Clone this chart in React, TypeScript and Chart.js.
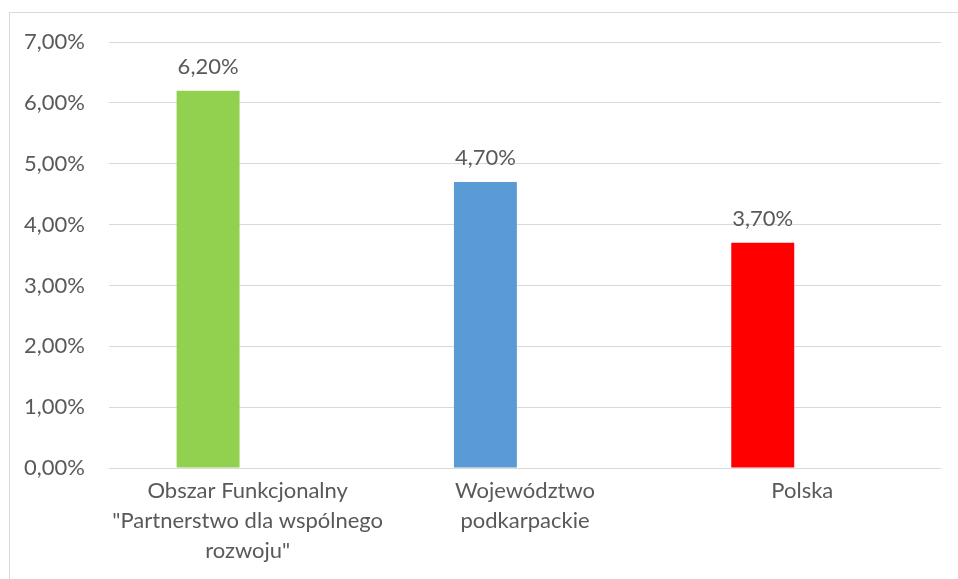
import React, { useEffect, useRef } from "react";
import { Chart, registerables } from "chart.js";

Chart.register(...registerables);

const categories: (string | string[])[] = [
  ["Obszar Funkcjonalny", "\"Partnerstwo dla wspólnego", "rozwoju\""],
  ["Województwo", "podkarpackie"],
  "Polska",
];
const values: number[] = [6.2, 4.7, 3.7];
const emptySeries: (number | null)[] = [null, null, null];
const barColors: string[] = ["#92D050", "#5B9BD5", "#FF0000"];
const yMin = 0;
const yMax = 7;
const yStep = 1;

const FONT = "Lato";
const TEXT = "#595959";
const SIZE = 22;

const fmt = (v: number) => v.toFixed(2).replace(".", ",") + "%";

const dataLabels = {
  id: "dataLabels",
  afterDatasetsDraw(chart: any) {
    const ctx = chart.ctx;
    const meta = chart.getDatasetMeta(0);
    ctx.save();
    ctx.font = `${SIZE}px ${FONT}`;
    ctx.fillStyle = TEXT;
    ctx.textAlign = "center";
    ctx.textBaseline = "alphabetic";
    meta.data.forEach((el: any, i: number) => {
      const v = chart.data.datasets[0].data[i];
      if (v == null) return;
      ctx.fillText(fmt(v), el.x, el.y - 17);
    });
    ctx.restore();
  },
};

export default function App() {
  const ref = useRef<HTMLCanvasElement | null>(null);
  useEffect(() => {
    if (!ref.current) return;
    const chart = new Chart(ref.current, {
      type: "bar",
      data: {
        labels: categories,
        datasets: [
          {
            data: values,
            backgroundColor: barColors,
            categoryPercentage: 0.571,
            barPercentage: 0.795,
          },
          {
            data: emptySeries,
            backgroundColor: "rgba(0,0,0,0)",
            categoryPercentage: 0.571,
            barPercentage: 0.795,
          },
        ],
      },
      options: {
        responsive: false,
        animation: false,
        layout: { padding: { left: 0, right: 17, top: 42, bottom: 0 } },
        plugins: {
          legend: { display: false },
          tooltip: { enabled: false },
          title: { display: false },
        },
        scales: {
          x: {
            grid: { display: false, drawTicks: false },
            border: { display: false },
            ticks: {
              color: TEXT,
              font: { family: FONT, size: SIZE, lineHeight: "30px" },
              padding: 8,
              maxRotation: 0,
              autoSkip: false,
            },
            afterFit(scale: any) {
              scale.height = 111;
            },
          },
          y: {
            min: yMin,
            max: yMax,
            grid: { color: "#d9d9d9", lineWidth: 1, drawTicks: false },
            border: { display: false },
            ticks: {
              stepSize: yStep,
              color: TEXT,
              font: { family: FONT, size: SIZE },
              padding: 24,
              callback: (v: any) => fmt(Number(v)),
            },
            afterFit(scale: any) {
              scale.width = 109;
            },
          },
        },
      },
      plugins: [dataLabels],
    });
    return () => chart.destroy();
  }, []);
  return (
    <div>
      <div
        style={{
          position: "fixed",
          left: 9,
          top: 12,
          width: 980,
          height: 600,
          border: "1px solid #d9d9d9",
          boxSizing: "border-box",
        }}
      />
      <canvas
        ref={ref}
        width={958}
        height={579}
        style={{ position: "fixed", left: 0, top: 0, width: 958, height: 579 }}
      />
    </div>
  );
}
